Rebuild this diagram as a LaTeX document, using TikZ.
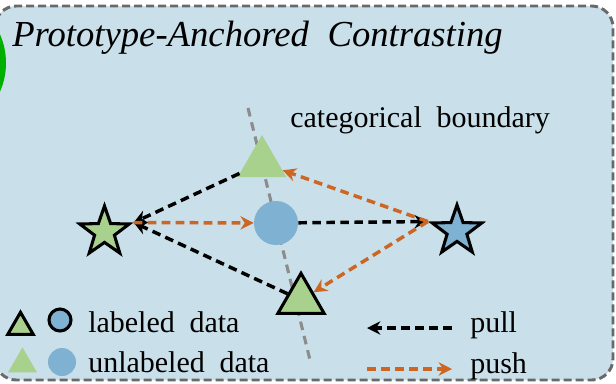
\documentclass[tikz,border=0pt]{standalone}
\usepackage{fontspec}
\setmainfont{Liberation Serif}
\usetikzlibrary{shapes.geometric,arrows.meta}
\definecolor{panelblue}{RGB}{201,223,234}
\definecolor{panelgray}{RGB}{105,105,105}
\definecolor{protogreen}{RGB}{169,209,142}
\definecolor{protoblue}{RGB}{126,177,210}
\definecolor{pushorange}{RGB}{204,102,34}
\definecolor{sidegreen}{RGB}{0,176,0}
\newcommand{\widegap}{\spaceskip 11pt\relax}

\begin{document}
\begin{tikzpicture}[x=0.75pt,y=-0.75pt,
        tri/.style={regular polygon,regular polygon sides=3,fill=protogreen,inner sep=0pt,minimum size=42pt},
        dot/.style={circle,fill=protoblue,inner sep=0pt,minimum size=33pt},
        proto/.style={star,star points=5,star point ratio=2.5,draw=black,line width=2.3pt,inner sep=0pt,minimum size=39pt},
        labeled/.style={draw=black,line width=2.3pt},
        pullline/.style={black,line width=2.6pt,dash pattern=on 6.5pt off 4pt,-{Stealth[length=10pt,width=10pt]}},
        pushline/.style={pushorange,line width=2.6pt,dash pattern=on 6.5pt off 4pt,-{Stealth[length=10pt,width=10pt]}},
        txt/.style={anchor=base west,inner sep=0pt,font=\fontsize{22.5}{27}\selectfont\widegap}]
    \useasboundingbox (0,0) rectangle (616,383);

    \filldraw[panelgray,fill=panelblue,line width=2.2pt,dash pattern=on 6pt off 3pt,rounded corners=16pt] (-5,6) rectangle (613,380);
    \fill[sidegreen] (-65,63) circle (71);

    \node[anchor=base west,inner sep=0pt,font=\fontsize{27.5}{33}\selectfont\itshape] (title) at (12,46) {Prototype-Anchored\hspace{14pt}Contrasting};
    \node[txt] (bndlabel) at (290,127) {categorical boundary};

    \coordinate (btop) at (248,108);
    \coordinate (bbot) at (310,360);
    \draw[gray!90,line width=2.3pt,dash pattern=on 6.5pt off 4.5pt] (btop) -- (bbot);

    \node[tri] (triup) at (262,163) {};
    \node[tri,labeled,minimum size=40pt] (tridown) at (301,300) {};
    \node[dot] (circ) at (276,223) {};
    \node[proto,fill=protogreen] (starl) at (104.5,232) {};
    \node[proto,fill=protoblue] (starr) at (457,231) {};

    \draw[pullline] (triup) -- (starl.outer point 5);
    \draw[pullline] (tridown) -- (starl.outer point 5);
    \draw[pullline] (circ) -- (starr.outer point 2);
    \draw[pushline] (starl.outer point 5) -- (circ);
    \draw[pushline] (starr.outer point 2) -- (triup);
    \draw[pushline] (starr.outer point 2) -- (tridown);

    \node[tri,labeled,minimum size=22pt] (keytri) at (20.5,327) {};
    \node[dot,labeled,minimum size=16.5pt] (keydot) at (60,320) {};
    \node[tri,minimum size=25pt] (keytriu) at (22.5,364) {};
    \node[dot,minimum size=21pt] (keydotu) at (62,362) {};
    \node[txt] (labtext) at (88,332) {labeled data};
    \node[txt] (unltext) at (88,372) {unlabeled data};

    \coordinate (pullfrom) at (452,328);
    \coordinate (pullto) at (367,328);
    \coordinate (pushfrom) at (367,369);
    \coordinate (pushto) at (452,369);
    \draw[pullline] (pullfrom) -- (pullto);
    \draw[pushline] (pushfrom) -- (pushto);
    \node[txt] (pulltext) at (470,332) {pull};
    \node[txt] (pushtext) at (470,373) {push};
\end{tikzpicture}
\end{document}
